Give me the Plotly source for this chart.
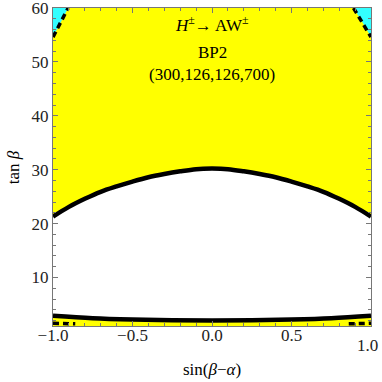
import plotly.graph_objects as go

# upper boundary of the white (allowed) region, symmetric in sin(beta-alpha)
x_up = [-1.0, -0.9, -0.8, -0.7, -0.6, -0.5, -0.4, -0.3, -0.2, -0.1, 0.0,
        0.1, 0.2, 0.3, 0.4, 0.5, 0.6, 0.7, 0.8, 0.9, 1.0]
tb_up = [21.3, 23.1, 24.6, 25.9, 26.9, 27.8, 28.6, 29.2, 29.7, 30.1, 30.2,
         30.1, 29.7, 29.2, 28.6, 27.8, 26.9, 25.9, 24.6, 23.1, 21.3]

# lower boundary
x_lo = [-1.0, -0.75, -0.5, -0.25, 0.0, 0.25, 0.5, 0.75, 1.0]
tb_lo = [2.9, 2.45, 2.2, 2.05, 2.0, 2.05, 2.2, 2.45, 2.9]

# cyan corners (dashed edge)
x_cl = [-1.0, -0.95, -0.905]
tb_cl = [54.6, 57.4, 60.0]
x_cr = [0.89, 0.945, 1.0]
tb_cr = [60.0, 57.4, 54.6]

# dashed pieces near the bottom
x_bl = [-1.0, -0.93, -0.86]
tb_bl = [1.5, 1.45, 1.4]
x_br = [0.86, 0.93, 1.0]
tb_br = [1.4, 1.45, 1.5]

x_ticks = [-1, -0.5, 0, 0.5, 1]
x_ticklabels = ["−1.0", "−0.5", "0.0", "0.5", ""]   # last one drawn below, nudged left
y_ticks = [10, 20, 30, 40, 50, 60]

YMIN, YMAX = 1.0, 60.0

fig = go.Figure()

# white allowed band between the curves
fig.add_trace(go.Scatter(
    x=x_up + x_lo[::-1], y=tb_up + tb_lo[::-1],
    fill="toself", fillcolor="white", mode="none", hoverinfo="skip"))

# cyan corners
fig.add_trace(go.Scatter(
    x=x_cl + [-1.0], y=tb_cl + [YMAX], fill="toself", fillcolor="#33ffff",
    mode="none", hoverinfo="skip"))
fig.add_trace(go.Scatter(
    x=x_cr + [1.0], y=tb_cr + [YMAX], fill="toself", fillcolor="#33ffff",
    mode="none", hoverinfo="skip"))

# black boundaries
for xs, ys in [(x_up, tb_up), (x_lo, tb_lo)]:
    fig.add_trace(go.Scatter(x=xs, y=ys, mode="lines",
                             line=dict(color="black", width=4.5, shape="spline")))
for xs, ys in [(x_cl, tb_cl), (x_cr, tb_cr), (x_bl, tb_bl), (x_br, tb_br)]:
    fig.add_trace(go.Scatter(x=xs, y=ys, mode="lines",
                             line=dict(color="black", width=3.5, dash="6px,4px")))

font = dict(family="Liberation Serif", size=17, color="black")
for txt, yy in [("<i>H</i><sup>±</sup>→ AW<sup>±</sup>", 57.1),
                ("BP2", 51.8),
                ("(300,126,126,700)", 47.7)]:
    fig.add_annotation(x=0, y=yy, text=txt, showarrow=False, font=font)

# last x tick label, shifted so it stays inside the page
fig.add_annotation(x=1, xref="x", yref="paper", y=0, yanchor="top", xanchor="right",
                   xshift=9, yshift=-8, text="1.0", showarrow=False,
                   font=dict(family="Liberation Serif", size=17, color="#222"))

# axis titles placed by hand
fig.add_annotation(xref="paper", yref="paper", x=0.5, y=-0.138,
                   xanchor="center", yanchor="middle",
                   text="sin(<i>β</i>−<i>α</i>)", showarrow=False, font=font)
fig.add_annotation(xref="paper", yref="paper", x=-0.125, y=0.5, textangle=-90,
                   xanchor="center", yanchor="middle",
                   text="tan <i>β</i>", showarrow=False, font=font)

axis_common = dict(showgrid=False, zeroline=False, showline=True, linecolor="#777",
                   linewidth=1, mirror="ticks", ticks="inside", tickcolor="#777",
                   ticklen=5, ticklabeloverflow="allow", automargin=False,
                   tickfont=dict(family="Liberation Serif", size=17, color="#222"))

fig.update_xaxes(range=[-1, 1], tickvals=x_ticks, ticktext=x_ticklabels,
                 ticklabelstandoff=-6,
                 minor=dict(ticks="inside", dtick=0.1, ticklen=3, tickcolor="#777"),
                 **axis_common)
fig.update_yaxes(range=[YMIN, YMAX], tickvals=y_ticks, ticklabelstandoff=0,
                 minor=dict(ticks="inside", tickvals=list(range(2, 60, 2)), ticklen=3,
                            tickcolor="#777"),
                 **axis_common)

fig.update_layout(
    width=382, height=382,
    margin=dict(l=53, r=11, t=8, b=56),
    plot_bgcolor="yellow", paper_bgcolor="white",
    showlegend=False,
)

# drop the browser's default body margin so the figure sits at the page corner
fig.write_html("out.html", config={"displayModeBar": False},
               post_script="document.body.style.margin='0';document.body.style.overflow='hidden';")
